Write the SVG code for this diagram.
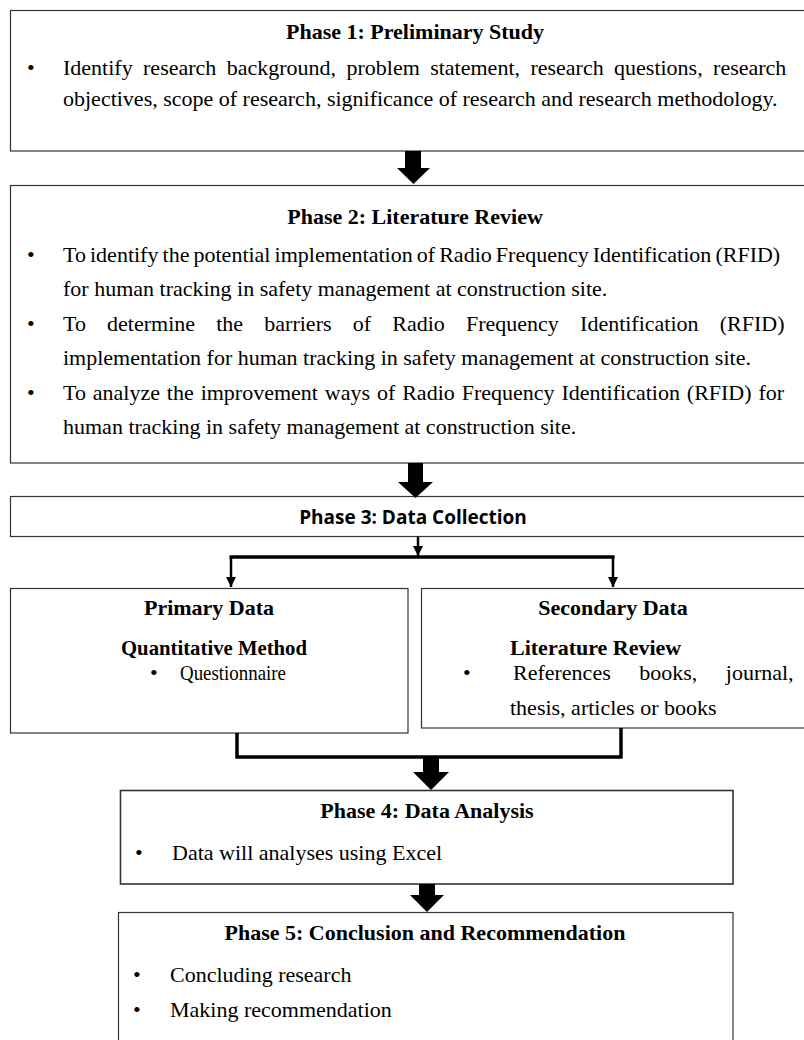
<svg xmlns="http://www.w3.org/2000/svg" width="804" height="1040" viewBox="0 0 804 1040">
  <style>
    .box { fill: #ffffff; stroke: #333333; stroke-width: 1.2; }
    .t { font-family: "Liberation Serif", "Times New Roman", serif; font-size: 22px; fill: #000000; }
    .b { font-weight: bold; }
    .c { text-anchor: middle; }
    .s { font-family: "Open Sans", "Liberation Sans", sans-serif; font-size: 19px; font-weight: bold; fill: #000000; }
    .thick { fill: none; stroke: #000000; stroke-width: 3.5; stroke-linejoin: miter; }
    .thin { fill: none; stroke: #000000; stroke-width: 2.5; }
    .big { fill: #000000; }
  </style>
  <defs>
    <marker id="ah" viewBox="0 0 10 10" refX="10" refY="5" markerWidth="4" markerHeight="4" orient="auto" markerUnits="strokeWidth">
      <path d="M0,0 L10,5 L0,10 Z" fill="#000000"/>
    </marker>
  </defs>

  <g id="phase1">
    <rect class="box" x="10.5" y="10.5" width="800" height="140.5"/>
    <text class="t b c" x="415" y="39">Phase 1: Preliminary Study</text>
    <text class="t" x="27" y="75">•</text>
    <text class="t" x="63" y="75" word-spacing="4.9">Identify research background, problem statement, research questions, research</text>
    <text class="t" x="63" y="106">objectives, scope of research, significance of research and research methodology.</text>
  </g>

  <g id="phase2">
    <rect class="box" x="10.5" y="185.5" width="800" height="277.5"/>
    <text class="t b c" x="415" y="224">Phase 2: Literature Review</text>
    <text class="t" x="27" y="262">•</text>
    <text class="t" x="63" y="262" word-spacing="-1.4">To identify the potential implementation of Radio Frequency Identification (RFID)</text>
    <text class="t" x="63" y="296">for human tracking in safety management at construction site.</text>
    <text class="t" x="27" y="331">•</text>
    <text class="t" x="63" y="331" word-spacing="15.7">To determine the barriers of Radio Frequency Identification (RFID)</text>
    <text class="t" x="63" y="365">implementation for human tracking in safety management at construction site.</text>
    <text class="t" x="27" y="400">•</text>
    <text class="t" x="63" y="400" word-spacing="1.4">To analyze the improvement ways of Radio Frequency Identification (RFID) for</text>
    <text class="t" x="63" y="434">human tracking in safety management at construction site.</text>
  </g>

  <g id="phase3">
    <rect class="box" x="10.5" y="496.5" width="800" height="40"/>
    <text class="s c" x="413" y="524">Phase 3: Data Collection</text>
  </g>

  <g id="primary">
    <rect class="box" x="10.5" y="588.5" width="397.5" height="144.5"/>
    <text class="t b c" x="209" y="615">Primary Data</text>
    <text class="t b c" x="214" y="655" textLength="186" lengthAdjust="spacingAndGlyphs">Quantitative Method</text>
    <text class="t" x="150" y="680">•</text>
    <text class="t" x="180" y="680" textLength="106" lengthAdjust="spacingAndGlyphs">Questionnaire</text>
  </g>

  <g id="secondary">
    <rect class="box" x="421.5" y="588.5" width="390" height="139.5"/>
    <text class="t b c" x="613" y="615">Secondary Data</text>
    <text class="t b" x="510" y="655">Literature Review</text>
    <text class="t" x="463" y="680">•</text>
    <text class="t" x="513" y="680" word-spacing="23">References books, journal,</text>
    <text class="t" x="510" y="715">thesis, articles or books</text>
  </g>

  <g id="phase4">
    <rect class="box" x="120.5" y="790.5" width="612.5" height="93.5" style="stroke-width:1.6"/>
    <text class="t b c" x="427" y="818">Phase 4: Data Analysis</text>
    <text class="t" x="135" y="860">•</text>
    <text class="t" x="172" y="860">Data will analyses using Excel</text>
  </g>

  <g id="phase5">
    <rect class="box" x="118.5" y="912.5" width="614.5" height="140"/>
    <text class="t b c" x="425" y="940">Phase 5: Conclusion and Recommendation</text>
    <text class="t" x="133" y="982">•</text>
    <text class="t" x="170" y="982">Concluding research</text>
    <text class="t" x="133" y="1017">•</text>
    <text class="t" x="170" y="1017">Making recommendation</text>
  </g>

  <g id="connectors">
    <path class="big" d="M405,151 H421 V168 H430 L413.5,184 L397,168 H405 Z"/>
    <path class="big" d="M408,463 H423 V482 H433 L415.5,498 L398,482 H408 Z"/>
    <line class="thin" x1="418" y1="537" x2="418" y2="556" marker-end="url(#ah)"/>
    <line class="thick" x1="229.5" y1="557" x2="614.5" y2="557"/>
    <line class="thin" x1="231" y1="557" x2="231" y2="587" marker-end="url(#ah)"/>
    <line class="thin" x1="613" y1="557" x2="613" y2="587" marker-end="url(#ah)"/>
    <polyline class="thick" points="237,733 237,757 621,757 621,728"/>
    <path class="big" d="M423,758 H439 V772 H449 L431,790 L413,772 H423 Z"/>
    <path class="big" d="M419,884 H435 V895 H444 L427,912 L410,895 H419 Z"/>
  </g>
</svg>
